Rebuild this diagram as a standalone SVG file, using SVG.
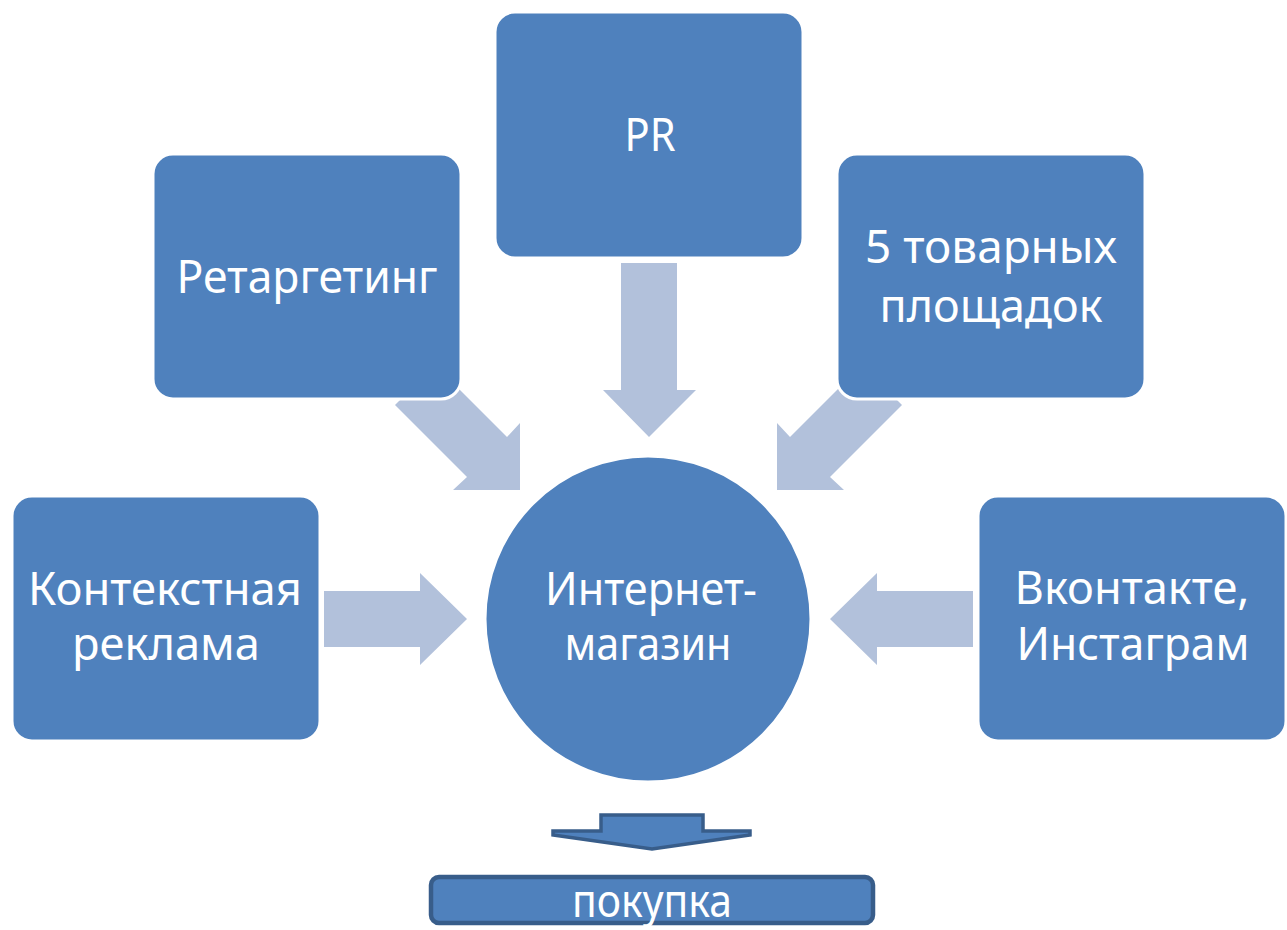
<svg xmlns="http://www.w3.org/2000/svg" width="1287" height="930" viewBox="0 0 1287 930">
<style>
.box{fill:#4F81BD;stroke:#FFFFFF;stroke-width:3}
.arr{fill:#B2C1DB}
.t{font-family:"Noto Sans","DejaVu Sans",sans-serif;font-size:45px;fill:#FFFFFF;text-anchor:middle}
</style>
<rect width="1287" height="930" fill="#FFFFFF"/>
<g id="connectors">
<polygon class="arr" points="621,263 677,263 677,390 696,390 649,437 603,390 621,390"/>
<polygon class="arr" points="395,405 435,365 507,437 520,423 520,490 453,490 467,477"/>
<polygon class="arr" points="902,405 862,365 790,437 777,423 777,490 844,490 830,477"/>
<polygon class="arr" points="324,591 420,591 420,573 467,619 420,665 420,647 324,647"/>
<polygon class="arr" points="973,591 877,591 877,573 830,619 877,665 877,647 973,647"/>
<polygon points="601,815 703,815 703,831 750,831 750,835 652,849 553,835 553,831 601,831" fill="#4F81BD" stroke="#385D8A" stroke-width="3.5" stroke-linejoin="miter"/>
</g>
<g id="node-pr">
<rect class="box" x="495" y="12" width="308" height="246" rx="20"/>
<text class="t" x="650" y="151" textLength="51" lengthAdjust="spacingAndGlyphs">PR</text>
</g>
<g id="node-retargeting">
<rect class="box" x="153" y="154" width="308" height="245" rx="20"/>
<text class="t" x="307" y="293" textLength="261" lengthAdjust="spacingAndGlyphs">Ретаргетинг</text>
</g>
<g id="node-5">
<rect class="box" x="837" y="154" width="308" height="245" rx="20"/>
<text class="t" x="991" y="263" textLength="252" lengthAdjust="spacingAndGlyphs">5 товарных</text>
<text class="t" x="991" y="322" textLength="223" lengthAdjust="spacingAndGlyphs">площадок</text>
</g>
<g id="node-context">
<rect class="box" x="12" y="496" width="308" height="245" rx="20"/>
<text class="t" x="165" y="605" textLength="274" lengthAdjust="spacingAndGlyphs">Контекстная</text>
<text class="t" x="166" y="660" textLength="188" lengthAdjust="spacingAndGlyphs">реклама</text>
</g>
<g id="node-vk">
<rect class="box" x="978" y="496" width="308" height="245" rx="20"/>
<text class="t" x="1132" y="604" textLength="235" lengthAdjust="spacingAndGlyphs">Вконтакте,</text>
<text class="t" x="1133" y="660" textLength="233" lengthAdjust="spacingAndGlyphs">Инстаграм</text>
</g>
<g id="node-shop">
<circle class="box" cx="648" cy="619" r="163"/>
<text class="t" x="651" y="605" textLength="212" lengthAdjust="spacingAndGlyphs">Интернет-</text>
<text class="t" x="648" y="660" textLength="167" lengthAdjust="spacingAndGlyphs">магазин</text>
</g>
<g id="node-buy">
<rect x="431" y="877" width="442" height="46" rx="8" fill="#4F81BD" stroke="#385D8A" stroke-width="4.5"/>
<text class="t" x="652" y="917" font-size="42" textLength="160" lengthAdjust="spacingAndGlyphs">покупка</text>
</g>
</svg>
